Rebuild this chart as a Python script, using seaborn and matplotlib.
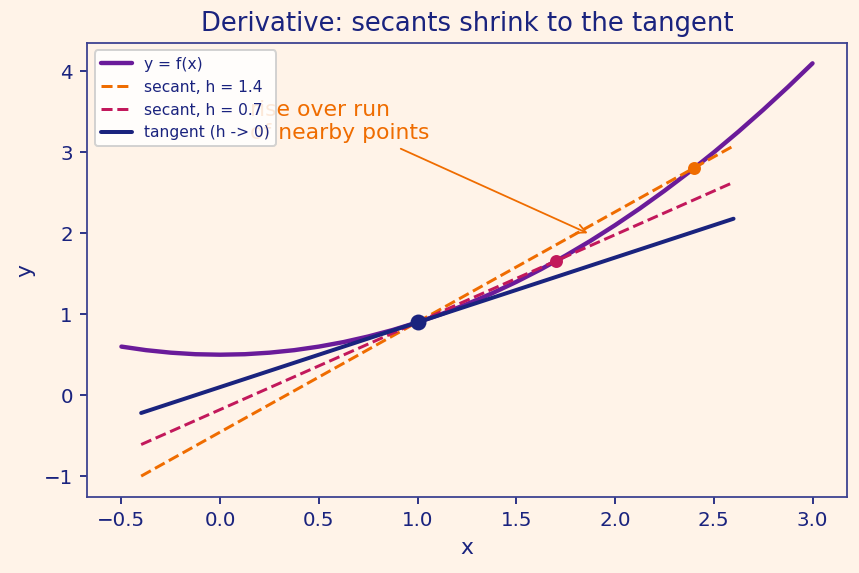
import numpy as np
import matplotlib
matplotlib.use("Agg")
import matplotlib.pyplot as plt
import seaborn as sns

# curve y = f(x)
curve_x = [-0.5, -0.375, -0.25, -0.125, 0.0, 0.125, 0.25, 0.375, 0.5, 0.625, 0.75, 0.875,
           1.0, 1.125, 1.25, 1.375, 1.5, 1.625, 1.75, 1.875, 2.0, 2.125, 2.25, 2.375,
           2.5, 2.625, 2.75, 2.875, 3.0]
curve_y = [0.6, 0.556, 0.525, 0.506, 0.5, 0.506, 0.525, 0.556, 0.6, 0.656, 0.725, 0.806,
           0.9, 1.006, 1.125, 1.256, 1.4, 1.556, 1.725, 1.906, 2.1, 2.306, 2.525, 2.756,
           3.0, 3.256, 3.525, 3.806, 4.1]

# straight lines (end points)
line_x = [-0.4, 2.6]
secant_big_y = [-1.0, 3.08]
secant_small_y = [-0.61, 2.63]
tangent_y = [-0.22, 2.18]

# marked points
p0 = (1.0, 0.9)
p_small = (1.7, 1.656)
p_big = (2.4, 2.804)

bg = "#fff3e8"
navy = "#1a237e"
purple = "#6a1b9a"
orange = "#ef6c00"
crimson = "#c2185b"
spine = "#3c4190"

sns.set_theme(style="white")
plt.rcParams.update({
    "figure.facecolor": bg,
    "axes.facecolor": bg,
    "axes.edgecolor": spine,
    "axes.linewidth": 0.9,
    "axes.labelcolor": navy,
    "xtick.color": navy,
    "ytick.color": navy,
    "xtick.major.width": 0.9,
    "ytick.major.width": 0.9,
    "xtick.bottom": True,
    "ytick.left": True,
    "text.color": navy,
})
plt.rcParams["font.family"] = ["DejaVu Sans"]

fig, ax = plt.subplots(figsize=(6, 4), dpi=143.33)

sns.lineplot(x=curve_x, y=curve_y, ax=ax, color=purple, linewidth=2.2, label="y = f(x)")
sns.lineplot(x=line_x, y=secant_big_y, ax=ax, color=orange, linewidth=1.5, linestyle="--", label="secant, h = 1.4")
sns.lineplot(x=line_x, y=secant_small_y, ax=ax, color=crimson, linewidth=1.5, linestyle="--", label="secant, h = 0.7")
sns.lineplot(x=line_x, y=tangent_y, ax=ax, color=navy, linewidth=2, label="tangent (h -> 0)")

ax.plot([p0[0]], [p0[1]], "o", color=navy, markersize=7, zorder=5)
ax.plot([p_small[0]], [p_small[1]], "o", color=crimson, markersize=5.5, zorder=5)
ax.plot([p_big[0]], [p_big[1]], "o", color=orange, markersize=5.5, zorder=5)

ax.annotate("rise over run\nof nearby points", xy=(1.88, 1.98), xytext=(0.15, 3.17),
            color=orange, fontsize=11,
            arrowprops=dict(arrowstyle="->", color=orange, lw=0.9))

ax.set_title("Derivative: secants shrink to the tangent", fontsize=13, color=navy)
ax.set_xlabel("x", fontsize=11)
ax.set_ylabel("y", fontsize=11)
ax.tick_params(labelsize=10, length=3.5)

leg = ax.legend(loc="upper left", fontsize=7.8, frameon=True, facecolor="white",
                edgecolor="#cccccc", framealpha=0.85)
for t in leg.get_texts():
    t.set_color(navy)

fig.subplots_adjust(left=0.101, right=0.985, top=0.925, bottom=0.133)
plt.savefig("out.png", dpi=143.33)
